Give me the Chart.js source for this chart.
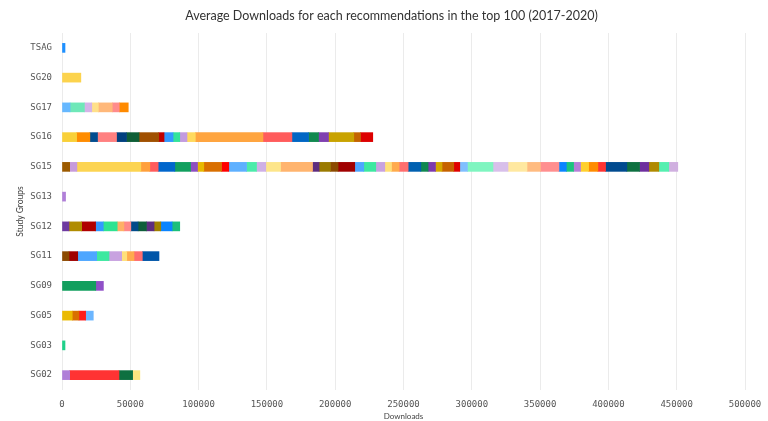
<!DOCTYPE html>
<html>
<head>
<meta charset="utf-8">
<script src="https://cdn.jsdelivr.net/npm/chart.js@4/dist/chart.umd.min.js"></script>
<style>
  body { margin: 0; background: #fff; }
  #wrap { width: 768px; height: 421px; }
</style>
</head>
<body>
<div id="wrap"><canvas id="chart"></canvas></div>
<script>
// study groups, top to bottom
const groups = ["TSAG", "SG20", "SG17", "SG16", "SG15", "SG13", "SG12", "SG11", "SG09", "SG05", "SG03", "SG02"];

// average downloads of each recommendation, in stack order
const tsag = [2200];
const sg20 = [13800];
const sg17 = [5900, 10500, 5400, 4800, 10200, 5100, 6600];
const sg16 = [10700, 9700, 5600, 13900, 7300, 9200, 14400, 3900, 6600, 4900, 5300, 6100, 49500, 21200, 12200, 7300, 7300, 18500, 4900, 9000];
const sg15 = [5600, 5300, 46800, 6600, 6100, 12200, 11500, 5100, 4600, 13000, 5300, 13000, 7300, 6800, 10800, 23400, 4800, 8300, 5600, 12200,
              6600, 8800, 6600, 4900, 5600, 6600, 9300, 5300, 5400, 4800, 8600, 4400, 5600, 18700, 11000, 13900, 9800, 13600, 5400, 5300,
              5100, 5900, 6800, 5600, 15600, 9300, 6800, 7300, 7300, 6600];
const sg13 = [2600];
const sg12 = [5100, 9300, 10200, 5600, 10200, 4900, 5100, 5300, 6100, 5600, 4900, 8300, 5600];
const sg11 = [5100, 6400, 13900, 9000, 9300, 3700, 5300, 6100, 12200];
const sg09 = [24700, 5600];
const sg05 = [7500, 4900, 4900, 5600];
const sg03 = [2200];
const sg02 = [5600, 36100, 10000, 5300];

const xTicksMax = 500000;

// segment colours
const tsagColors = ["#1E90FF"];
const sg20Colors = ["#FCD34D"];
const sg17Colors = ["#66B8FF", "#6FE8B8", "#D4B3E8", "#FFE08A", "#FFB87A", "#FF8C8C", "#FF8A00"];
const sg16Colors = ["#F9D038", "#FF8C00", "#004C8F", "#FF8080", "#003F7F", "#0E5E36", "#A05000", "#C00000", "#3399FF", "#33E39A",
                    "#C39BDF", "#FFDA5E", "#FFA540", "#FF5C5C", "#0066C4", "#11894F", "#8040B0", "#C9A300", "#C46400", "#DD0000"];
const sg15Colors = ["#9C5A00", "#C79BDB", "#FCD452", "#FFA03C", "#FF5C5C", "#0066CC", "#119F5E", "#8E4FC1", "#E8B800", "#D96F00",
                    "#FF0000", "#5EB0FF", "#4CEBAA", "#CFB0E6", "#FDE58A", "#FFB46E", "#5E2C7E", "#9A7A00", "#8C4A00", "#A00000",
                    "#4DA6FF", "#3DE8A0", "#C8A2E0", "#FFE07A", "#FFAB4D", "#FF6E6E", "#0060B0", "#108850", "#7D3AAE", "#D4A800",
                    "#C66200", "#E00000", "#80BFFF", "#7FF5C0", "#D8BFEA", "#FFE8A0", "#FFBB80", "#FF8F8F", "#0A84FF", "#1BC47D",
                    "#B57FD8", "#FFD02E", "#FF8C00", "#FF3333", "#004A8F", "#0E7040", "#6E2F9E", "#B08A00", "#55EFB0", "#D0B0E0"];
const sg13Colors = ["#B07FD8"];
const sg12Colors = ["#6E3AA0", "#B08C00", "#B00000", "#3399FF", "#2EE391", "#FFB066", "#FF8888", "#004A8A", "#0E5E3A", "#5E2C80",
                    "#A08000", "#0A84FF", "#1BBF7A"];
const sg11Colors = ["#8C4A00", "#A00000", "#4DA6FF", "#3DE8A0", "#C8A2E0", "#FFE07A", "#FFAB4D", "#FF6E6E", "#0055A8"];
const sg09Colors = ["#129F5E", "#9050C8"];
const sg05Colors = ["#EBBA00", "#D96F00", "#FF1A1A", "#6CB6FF"];
const sg03Colors = ["#1FD18A"];
const sg02Colors = ["#B07FD8", "#FF3333", "#0E7040", "#FFE680"];

const values = [tsag, sg20, sg17, sg16, sg15, sg13, sg12, sg11, sg09, sg05, sg03, sg02];
const colors = [tsagColors, sg20Colors, sg17Colors, sg16Colors, sg15Colors, sg13Colors, sg12Colors, sg11Colors, sg09Colors, sg05Colors, sg03Colors, sg02Colors];

// one dataset per stack position
const maxLen = Math.max(...values.map(v => v.length));
const datasets = [];
for (let k = 0; k < maxLen; k++) {
    datasets.push({
        data: values.map(v => v[k] ?? null),
        backgroundColor: colors.map(c => c[k] || "transparent"),
        borderWidth: 0,
        barThickness: 9
    });
}

const tickFont = { family: "'DejaVu Sans Mono', monospace", size: 9, lineHeight: 1 };

new Chart(document.getElementById("chart"), {
    type: "bar",
    data: { labels: groups, datasets: datasets },
    options: {
        indexAxis: "y",
        responsive: true,
        maintainAspectRatio: false,
        animation: false,
        layout: { padding: { left: 15, right: 0, top: 4, bottom: 0 } },
        plugins: {
            legend: { display: false },
            tooltip: { enabled: false },
            title: {
                display: true,
                text: "Average Downloads for each recommendations in the top 100 (2017-2020)",
                color: "#333",
                font: { family: "Lato", size: 12.5, weight: "normal" },
                padding: { top: 4, bottom: 10 }
            }
        },
        scales: {
            x: {
                stacked: true,
                min: 0,
                max: xTicksMax,
                ticks: { stepSize: 50000, color: "#555", font: tickFont, padding: 10, maxRotation: 0, callback: v => String(v) },
                grid: { color: "#ebebeb", drawTicks: false },
                border: { display: false },
                title: { display: true, text: "Downloads", color: "#444", font: { family: "Lato", size: 8 }, padding: { top: 5, bottom: 0 } },
                afterFit: scale => { scale.height = 31; scale.paddingRight = 23; }
            },
            y: {
                stacked: true,
                ticks: { color: "#555", font: tickFont, padding: 10 },
                grid: { display: false, drawTicks: false },
                border: { display: false },
                title: { display: true, text: "Study Groups", color: "#444", font: { family: "Lato", size: 8.5 }, padding: { top: 0, bottom: 5 } },
                afterFit: scale => { scale.width = 47; }
            }
        }
    }
});
</script>
</body>
</html>
